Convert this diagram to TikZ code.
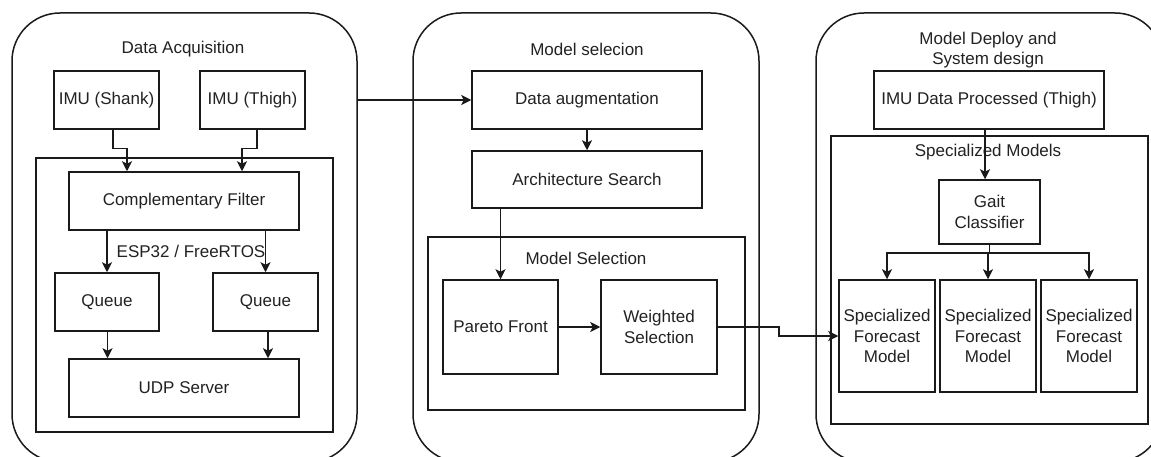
\documentclass[tikz,border=0pt]{standalone}
\usepackage{fontspec}
\setmainfont{Liberation Sans}
\usetikzlibrary{arrows.meta,calc}
\definecolor{ln}{HTML}{1A1A1A}
\definecolor{tx}{HTML}{222222}
\begin{document}
\begin{tikzpicture}[x=1pt,y=-1pt,
  font=\fontsize{17}{20.5}\selectfont,
  every node/.style={text=tx},
  box/.style={draw=ln,line width=1.5pt,rectangle,inner sep=0pt,align=center,fill=white},
  grp/.style={draw=ln,line width=1.5pt,rectangle,inner sep=0pt},
  cont/.style={draw=ln,line width=1.5pt,rectangle,rounded corners=48pt,inner sep=0pt},
  lbl/.style={inner sep=0pt,align=center},
  arr/.style={draw=ln,line width=1.5pt,-{Stealth[length=10pt,width=10pt,inset=2.5pt]}},
  ]
\clip (0,0) rectangle (1151,457);
\fill[white] (0,0) rectangle (1151,457);
% containers
\node[cont,minimum width=345pt,minimum height=449pt] (dacq) at (184.5,237.5) {};
\node[cont,minimum width=346pt,minimum height=449pt] (msel) at (586,237.5) {};
\node[cont,minimum width=347pt,minimum height=449pt] (depl) at (989.5,237.5) {};
% group rectangles
\node[grp,minimum width=297pt,minimum height=274pt] (esp) at (184.5,295) {};
\node[grp,minimum width=317pt,minimum height=173pt] (ms) at (586.5,323.5) {};
\node[grp,minimum width=317pt,minimum height=288pt] (spm) at (989.5,280) {};
% titles
\node[lbl] (tdacq) at (183,49) {Data Acquisition};
\node[lbl] (tmsel) at (587,49) {Model selecion};
\node[lbl] (tdepl) at (988,50) {Model Deploy and\\System design};
\node[lbl] (tesp) at (191,251) {ESP32 / FreeRTOS};
\node[lbl] (tms) at (586,258) {Model Selection};
\node[lbl] (tspm) at (988,152) {Specialized Models};
% left column
\node[box,minimum width=105pt,minimum height=58pt] (shank) at (106.5,100) {IMU (Shank)};
\node[box,minimum width=105pt,minimum height=58pt] (thigh) at (252.5,100) {IMU (Thigh)};
\node[box,minimum width=230pt,minimum height=58pt] (cf) at (184,201) {Complementary Filter};
\node[box,minimum width=104pt,minimum height=58pt] (q1) at (107,302) {Queue};
\node[box,minimum width=105pt,minimum height=58pt] (q2) at (265.5,302) {Queue};
\node[box,minimum width=230pt,minimum height=58pt] (udp) at (184,388) {UDP Server};
% middle column
\node[box,minimum width=230pt,minimum height=58pt] (da) at (587,100) {Data augmentation};
\node[box,minimum width=230pt,minimum height=57pt] (as) at (587,179.5) {Architecture Search};
\node[box,minimum width=115pt,minimum height=94pt] (pf) at (500.5,327) {Pareto Front};
\node[box,minimum width=116pt,minimum height=94pt] (ws) at (659,327) {Weighted\\Selection};
% right column
\node[box,minimum width=230pt,minimum height=58pt] (imudp) at (989,100) {IMU Data Processed (Thigh)};
\node[box,minimum width=101pt,minimum height=64pt] (gait) at (989.5,212) {Gait\\Classifier};
\node[box,minimum width=96pt,minimum height=112pt] (sfm1) at (887,336) {Specialized\\Forecast\\Model};
\node[box,minimum width=96pt,minimum height=112pt] (sfm2) at (988,336) {Specialized\\Forecast\\Model};
\node[box,minimum width=96pt,minimum height=112pt] (sfm3) at (1089,336) {Specialized\\Forecast\\Model};
% connectors
\draw[arr] ($(shank.south)+(6.5,0)$) -- ++(0,19) -| ($(cf.north)+(-57,0)$);
\draw[arr] ($(thigh.south)+(4.5,0)$) -- ++(0,19) -| ($(cf.north)+(58,0)$);
\draw[arr] (cf.south -| q1.north) -- (q1.north);
\draw[arr] (cf.south -| q2.north) -- (q2.north);
\draw[arr] ($(q1.south)+(0.5,0)$) -- ($(q1.south |- udp.north)+(0.5,0)$);
\draw[arr] ($(q2.south)+(2.5,0)$) -- ($(q2.south |- udp.north)+(2.5,0)$);
\draw[arr] (dacq.east |- da.west) -- (da.west);
\draw[arr] (da.south) -- (as.north);
\draw[arr] (as.south -| pf.north) -- (pf.north);
\draw[arr] (pf.east) -- (ws.west);
\draw[arr] (ws.east) -- ++(61,0) |- (sfm1.west);
\draw[arr] ($(imudp.south)+(-4,0)$) -- ($(gait.north)+(-4.5,0)$);
\coordinate (br) at ($(gait.south)+(0,8)$);
\draw[line width=1.5pt,draw=ln] (gait.south) -- (br);
\draw[arr] (br) -| (sfm1.north);
\draw[arr] (br) -| (sfm3.north);
\draw[arr] (br) -- (br -| sfm2.north) -- (sfm2.north);
\end{tikzpicture}
\end{document}
